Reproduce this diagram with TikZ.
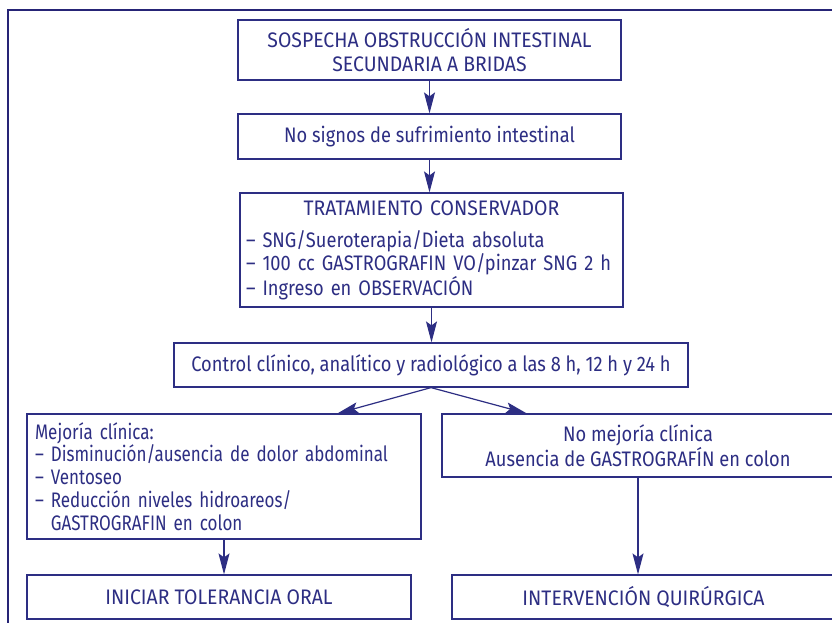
\documentclass[tikz,border=0pt]{standalone}
\usepackage{fontspec}
\setmainfont{Fira Sans}[FakeStretch=0.87]
\newfontfamily\capsfont{Fira Sans}[FakeStretch=0.925]
\newfontfamily\narrowfont{Fira Sans}[FakeStretch=0.81]
\usetikzlibrary{arrows.meta,calc}
\definecolor{navy}{RGB}{45,46,131}
\definecolor{framec}{RGB}{38,36,118}
\begin{document}
\begin{tikzpicture}[x=1pt,y=-1pt,
  box/.style={draw=navy, line width=1.2pt, inner sep=0pt, text=navy,
    font=\fontsize{21}{22.8}\selectfont, align=center},
  capsbox/.style={box, font=\fontsize{21}{22.8}\selectfont\capsfont},
  narrowbox/.style={box, font=\fontsize{21}{22.8}\selectfont\narrowfont},
  arr/.style={draw=navy, line width=1.2pt,
    -{Stealth[length=21pt,width=11pt,inset=4pt]}},
  frameline/.style={draw=framec, line width=2.4pt}]
\useasboundingbox (0,0) rectangle (832,622);
\fill[white] (0,0) rectangle (832,622);
\clip (0,0) rectangle (832,622);
\draw[frameline] (8,640) -- (8,10) -- (850,10);

\node[capsbox, minimum width=383pt, minimum height=60pt] (b1) at (429.5,50)
  {SOSPECHA OBSTRUCCIÓN INTESTINAL\\[0.5pt]SECUNDARIA A BRIDAS};
\node[box, minimum width=383pt, minimum height=45pt] (b2) at (429.5,136.5)
  {No signos de sufrimiento intestinal};
\node[box, minimum width=383pt, minimum height=114pt, text width=371pt, align=left] (b3) at (431.5,250)
  {\makebox[371pt]{\capsfont TRATAMIENTO CONSERVADOR}\\[10pt]
   \mbox{– SNG/Sueroterapia/Dieta absoluta}\\
   \mbox{– 100 cc GASTROGRAFIN VO/pinzar SNG 2 h}\\
   \mbox{– Ingreso en OBSERVACIÓN}};
\node[box, minimum width=514pt, minimum height=44pt] (b4) at (431,365)
  {Control clínico, analítico y radiológico a las 8 h, 12 h y 24 h};
\node[narrowbox, minimum width=394pt, minimum height=125pt, text width=378pt, align=left] (bL) at (224,476.5)
  {\mbox{Mejoría clínica:}\\
   \mbox{– Disminución/ausencia de dolor abdominal}\\
   \mbox{– Ventoseo}\\
   \mbox{– Reducción niveles hidroareos/}\\
   \mbox{\phantom{–}\ GASTROGRAFIN en colon}};
\node[box, minimum width=392pt, minimum height=63pt] (bR) at (638,445.5)
  {No mejoría clínica\\Ausencia de GASTROGRAFÍN en colon};
\node[capsbox, minimum width=384pt, minimum height=44pt] (bLL) at (219,597)
  {INICIAR TOLERANCIA ORAL};
\node[capsbox, minimum width=383pt, minimum height=44pt] (bRR) at (643.5,597)
  {INTERVENCIÓN QUIRÚRGICA};

\draw[arr] (b1.south) -- (b1.south |- b2.north);
\draw[arr] (b2.south) -- (b2.south |- b3.north);
\draw[arr] (b3.south) -- (b3.south |- b4.north);
\draw[arr] (b4.south) -- ($(bL.north west)!0.787!(bL.north east)$);
\draw[arr] (b4.south) -- ($(bR.north west)!0.217!(bR.north east)$);
\draw[arr] (bL.south) -- (bL.south |- bLL.north);
\draw[arr] (bR.south) -- (bR.south |- bRR.north);
\end{tikzpicture}
\end{document}
